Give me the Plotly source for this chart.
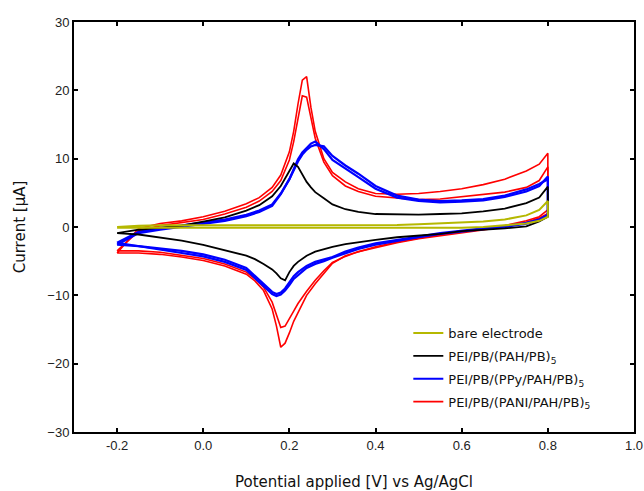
import plotly.graph_objects as go

# Potential grids (V vs Ag/AgCl)
v_fwd = [-0.2, -0.15, -0.1, -0.05, 0.0, 0.05, 0.1, 0.13, 0.16, 0.18, 0.2, 0.21, 0.22, 0.23, 0.24,
         0.25, 0.26, 0.28, 0.30, 0.33, 0.36, 0.40, 0.45, 0.50, 0.55, 0.60, 0.65, 0.70, 0.75, 0.78, 0.80]
v_rev = [0.80, 0.78, 0.75, 0.70, 0.65, 0.60, 0.55, 0.50, 0.45, 0.40, 0.36, 0.33, 0.30, 0.28, 0.26,
         0.24, 0.22, 0.21, 0.20, 0.19, 0.18, 0.17, 0.16, 0.14, 0.12, 0.10, 0.05, 0.0, -0.05, -0.1, -0.15, -0.2]

# Currents (µA)
bare_fwd = [0.0, 0.2, 0.25, 0.25, 0.25, 0.25, 0.25, 0.25, 0.25, 0.25, 0.25, 0.25, 0.25, 0.25, 0.25,
            0.25, 0.25, 0.25, 0.25, 0.25, 0.3, 0.3, 0.3, 0.4, 0.5, 0.6, 0.8, 1.1, 1.7, 2.5, 3.8]
bare_rev = [1.5, 0.9, 0.5, 0.2, 0.0, -0.1, -0.1, -0.1, -0.1, -0.1, -0.1, -0.1, -0.1, -0.1, -0.1,
            -0.1, -0.1, -0.1, -0.1, -0.1, -0.1, -0.1, -0.1, -0.1, -0.1, -0.1, -0.1, -0.1, -0.1, -0.1, -0.1, -0.1]

pah_fwd = [-0.9, -0.4, -0.1, 0.2, 0.8, 1.4, 2.4, 3.2, 4.5, 6.0, 8.2, 9.3, 8.8, 7.6, 6.6,
           5.8, 5.1, 4.2, 3.3, 2.6, 2.2, 1.9, 1.8, 1.8, 1.9, 2.0, 2.3, 2.7, 3.5, 4.3, 5.9]
pah_rev = [1.5, 0.8, 0.1, -0.2, -0.4, -0.6, -1.0, -1.2, -1.5, -1.9, -2.2, -2.5, -2.9, -3.3, -3.6,
           -4.2, -5.1, -5.7, -6.6, -7.8, -7.5, -6.8, -6.2, -5.4, -4.7, -4.2, -3.4, -2.6, -2.0, -1.5, -1.1, -0.9]

ppy_fwd_1 = [-2.6, -0.9, -0.4, 0.0, 0.4, 0.9, 1.6, 2.2, 3.1, 4.8, 7.0, 8.4, 9.9, 10.9, 11.6,
             12.2, 12.5, 11.4, 9.8, 8.6, 7.3, 5.6, 4.3, 3.8, 3.6, 3.7, 3.9, 4.4, 5.2, 6.0, 7.4]
ppy_rev_1 = [1.8, 1.1, 0.6, 0.1, -0.2, -0.5, -0.9, -1.4, -1.9, -2.4, -3.0, -3.6, -4.4, -4.8, -5.1,
             -5.7, -6.6, -7.2, -8.1, -9.0, -9.6, -9.8, -9.5, -8.3, -7.2, -6.0, -4.8, -4.0, -3.5, -3.1, -2.8, -2.6]
ppy_fwd_2 = [-2.3, -0.7, -0.2, 0.2, 0.6, 1.1, 1.8, 2.4, 3.3, 4.9, 7.0, 8.3, 9.6, 10.6, 11.3,
             11.8, 12.0, 11.8, 10.4, 9.0, 7.8, 6.0, 4.6, 4.0, 3.8, 3.9, 4.1, 4.6, 5.5, 6.3, 7.0]
ppy_rev_2 = [1.6, 1.0, 0.5, 0.0, -0.3, -0.6, -1.0, -1.5, -2.0, -2.6, -3.2, -3.8, -4.5, -5.0, -5.4,
             -6.0, -7.0, -7.6, -8.5, -9.3, -9.9, -10.1, -9.8, -8.6, -7.5, -6.3, -5.1, -4.3, -3.8, -3.3, -2.9, -2.3]

pani_fwd_1 = [-3.8, -0.2, 0.5, 0.9, 1.5, 2.3, 3.4, 4.3, 5.8, 7.6, 11.0, 14.0, 18.0, 21.5, 22.0,
              17.5, 14.0, 10.0, 8.0, 6.6, 5.6, 4.9, 4.8, 4.9, 5.2, 5.6, 6.2, 7.0, 8.2, 9.2, 10.8]
pani_rev_1 = [2.5, 1.5, 0.9, 0.2, -0.3, -0.7, -1.1, -1.6, -2.2, -2.9, -3.6, -4.2, -5.3, -6.8, -8.3,
              -10.0, -12.4, -13.8, -15.5, -17.0, -17.6, -14.5, -12.0, -9.3, -7.9, -6.9, -5.7, -4.9, -4.4, -4.0, -3.8, -3.8]
pani_fwd_2 = [-3.5, -0.6, 0.2, 0.6, 1.1, 1.9, 2.9, 3.8, 5.2, 6.8, 9.8, 12.5, 16.0, 19.2, 19.0,
              16.0, 13.0, 9.5, 7.5, 6.0, 5.2, 4.5, 4.2, 4.0, 4.1, 4.4, 4.7, 5.1, 5.8, 6.8, 8.8]
pani_rev_2 = [2.0, 1.3, 0.7, 0.0, -0.4, -0.8, -1.2, -1.7, -2.3, -3.0, -3.6, -4.3, -5.2, -6.4, -7.8,
              -9.4, -11.2, -12.3, -13.5, -14.5, -14.7, -12.8, -11.0, -8.8, -7.6, -6.6, -5.4, -4.6, -4.1, -3.7, -3.5, -3.5]

names = ["bare electrode",
         "PEI/PB/(PAH/PB)<sub>5</sub>",
         "PEI/PB/(PPy/PAH/PB)<sub>5</sub>",
         "PEI/PB/(PANI/PAH/PB)<sub>5</sub>"]

fig = go.Figure()

def add_cycle(fwd, rev, color, width, name, show, rank):
    fig.add_trace(go.Scatter(
        x=v_fwd + v_rev, y=fwd + rev, mode="lines",
        line=dict(color=color, width=width),
        name=name, showlegend=show, legendgroup=name, legendrank=rank))

add_cycle(pani_fwd_2, pani_rev_2, "#ff0000", 1.6, names[3], False, 4)
add_cycle(pani_fwd_1, pani_rev_1, "#ff0000", 1.6, names[3], True, 4)
add_cycle(ppy_fwd_2, ppy_rev_2, "#0000ff", 2.2, names[2], False, 3)
add_cycle(ppy_fwd_1, ppy_rev_1, "#0000ff", 2.2, names[2], True, 3)
add_cycle(pah_fwd, pah_rev, "#000000", 1.8, names[1], True, 2)
add_cycle(bare_fwd, bare_rev, "#b5b800", 2.0, names[0], True, 1)

axis_common = dict(
    showline=True, linecolor="black", linewidth=2, mirror="ticks",
    ticks="inside", ticklen=4, tickwidth=1.5, tickcolor="black",
    showgrid=False, zeroline=False, automargin=False,
    tickfont=dict(family="Liberation Sans, Arial", size=13, color="#222"),
)

fig.update_layout(
    width=644, height=491,
    margin=dict(l=74, r=10, t=22, b=59),
    paper_bgcolor="white", plot_bgcolor="white",
    font=dict(family="Liberation Sans, Arial", color="black"),
    xaxis=dict(range=[-0.3, 1.0], tickvals=[-0.2, 0.0, 0.2, 0.4, 0.6, 0.8, 1.0],
               ticktext=["-0.2", "0.0", "0.2", "0.4", "0.6", "0.8", "1.0"],
               title=dict(text="Potential applied [V] vs Ag/AgCl",
                          font=dict(family="DejaVu Sans", size=15, color="#111"), standoff=26),
               **axis_common),
    yaxis=dict(range=[-30, 30], tickvals=[-30, -20, -10, 0, 10, 20, 30],
               title=dict(text="Current [µA]", font=dict(family="DejaVu Sans", size=15, color="#111"),
                          standoff=18),
               **axis_common),
    legend=dict(x=0.597, y=0.278, xanchor="left", yanchor="top",
                traceorder="grouped", bgcolor="rgba(0,0,0,0)",
                font=dict(family="DejaVu Sans", size=13, color="#111"), tracegroupgap=3),
    showlegend=True,
)

fig.write_html("out.html")
